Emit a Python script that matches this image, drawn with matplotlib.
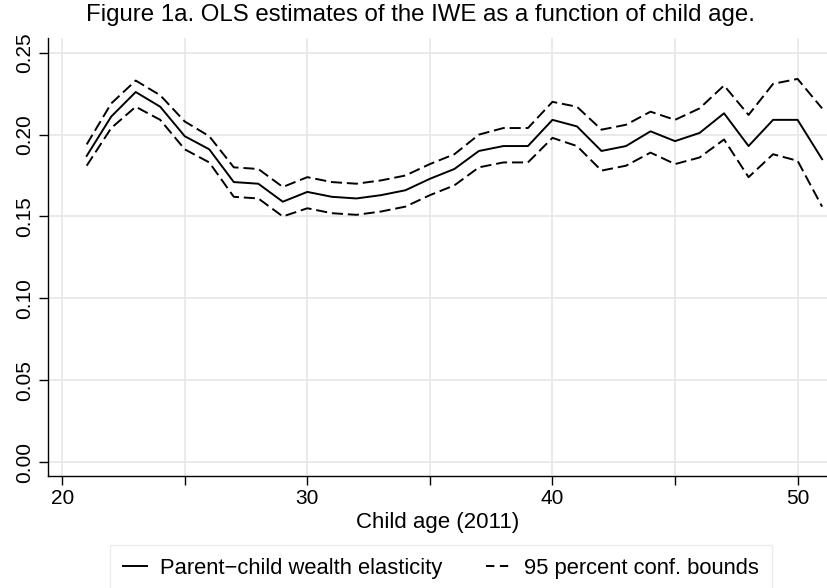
import matplotlib
matplotlib.use("Agg")
import matplotlib.pyplot as plt
import numpy as np

plt.rcParams['font.family'] = ['Liberation Sans', 'DejaVu Sans']
plt.rcParams['lines.scale_dashes'] = False

# child age in 2011
ages = list(range(21, 52))

# point estimate of the intergenerational wealth elasticity
iwe = [0.187, 0.211, 0.226, 0.217, 0.199, 0.191, 0.171, 0.170, 0.159, 0.165,
       0.162, 0.161, 0.163, 0.166, 0.173, 0.179, 0.190, 0.193, 0.193, 0.209,
       0.205, 0.190, 0.193, 0.202, 0.196, 0.201, 0.213, 0.193, 0.209, 0.209,
       0.185]

# 95 percent confidence bounds
upper = [0.194, 0.219, 0.233, 0.224, 0.208, 0.199, 0.180, 0.179, 0.168, 0.174,
         0.171, 0.170, 0.172, 0.175, 0.182, 0.188, 0.200, 0.204, 0.204, 0.220,
         0.217, 0.203, 0.206, 0.214, 0.209, 0.216, 0.230, 0.212, 0.231, 0.234,
         0.216]
lower = [0.181, 0.204, 0.217, 0.209, 0.191, 0.183, 0.162, 0.161, 0.150, 0.155,
         0.152, 0.151, 0.153, 0.156, 0.163, 0.169, 0.180, 0.183, 0.183, 0.198,
         0.193, 0.178, 0.181, 0.189, 0.182, 0.186, 0.197, 0.174, 0.188, 0.184,
         0.156]

xticks = [20, 25, 30, 35, 40, 45, 50]
xticklabels = ["20", "", "30", "", "40", "", "50"]
yticks = [0.00, 0.05, 0.10, 0.15, 0.20, 0.25]

fig = plt.figure(figsize=(8.27, 5.88), dpi=100)
ax = fig.add_axes([0.0586, 0.1905, 0.9414, 0.7449])

lw = 1.4
ax.plot(ages, iwe, color="black", lw=lw, label="Parent\u2212child wealth elasticity")
ax.plot(ages, upper, color="black", lw=lw, dashes=(8, 3.5), label="95 percent conf. bounds")
ax.plot(ages, lower, color="black", lw=lw, dashes=(8, 3.5))

ax.set_xlim(19.44, 51.2)
ax.set_ylim(-0.0085, 0.259)

ax.set_xticks(xticks)
ax.set_xticklabels(xticklabels, fontsize=15)
ax.set_yticks(yticks)
ax.set_yticklabels([f"{v:.2f}" for v in yticks], fontsize=15, rotation=90, va="center")
ax.tick_params(axis="both", direction="out", length=6.5, width=1.0, color="black")
ax.tick_params(axis="y", pad=4)
ax.tick_params(axis="x", pad=3)

ax.grid(True, color="#e6e6e6", lw=1.2)
ax.set_axisbelow(True)
for side in ["top", "right"]:
    ax.spines[side].set_visible(False)
for side in ["left", "bottom"]:
    ax.spines[side].set_linewidth(1.0)

ax.set_xlabel("Child age (2011)", fontsize=16, labelpad=3)
fig.text(0.508, 0.974, "Figure 1a. OLS estimates of the IWE as a function of child age.",
         ha="center", va="center", fontsize=17.3)

leg = fig.legend(loc="center", bbox_to_anchor=(0.533, 0.033), ncol=2, fontsize=15.8,
                 frameon=True, fancybox=False, edgecolor="#e6e6e6",
                 handlelength=1.1, handletextpad=0.6, columnspacing=2.0,
                 borderpad=0.6)
leg.get_frame().set_linewidth(1.0)
for h in leg.get_lines():
    h.set_linewidth(1.4)
leg.get_lines()[1].set_dashes((6, 4))

fig.savefig("out.png", dpi=100)
